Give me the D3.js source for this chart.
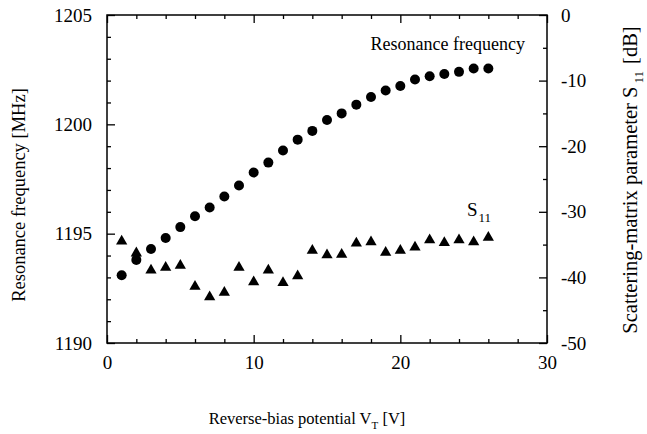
<!DOCTYPE html>
<html>
<head>
<meta charset="utf-8">
<script src="https://cdn.jsdelivr.net/npm/d3@7"></script>
<style>
  body { margin: 0; background: #fff; }
  svg text { font-family: "Liberation Serif", "Times New Roman", serif; fill: #000; }
  .axis path, .axis line { stroke: #000; stroke-width: 1.3; }
</style>
</head>
<body>
<div id="chart"></div>
<script>
// Reverse-bias potential (V)
const voltage = [1, 2, 3, 4, 5, 6, 7, 8, 9, 10, 11, 12, 13, 14, 15, 16, 17, 18, 19, 20, 21, 22, 23, 24, 25, 26];
// Resonance frequency (MHz), left axis
const resonance = [1193.1, 1193.8, 1194.3, 1194.8, 1195.3, 1195.8, 1196.2, 1196.7, 1197.2, 1197.8,
                   1198.25, 1198.8, 1199.3, 1199.7, 1200.2, 1200.5, 1200.9, 1201.25, 1201.55, 1201.75,
                   1202.05, 1202.2, 1202.3, 1202.4, 1202.55, 1202.55];
// S11 (dB), right axis
const s11 = [-34.5, -36.3, -38.9, -38.5, -38.2, -41.4, -43.0, -42.3, -38.5, -40.7,
             -38.9, -40.8, -39.8, -35.9, -36.6, -36.5, -34.8, -34.6, -36.2, -35.9,
             -35.4, -34.3, -34.7, -34.3, -34.6, -33.9];

const xMajor = [0, 10, 20, 30];
const fMajor = [1190, 1195, 1200, 1205];
const sMajor = [-50, -40, -30, -20, -10, 0];

const W = 647, H = 434;
const margin = { top: 15, right: 100, bottom: 91, left: 107 };
const plotW = W - margin.left - margin.right;
const plotH = H - margin.top - margin.bottom;

const svg = d3.select('#chart').append('svg')
    .attr('width', W).attr('height', H);
const g = svg.append('g')
    .attr('transform', `translate(${margin.left},${margin.top})`);

const x = d3.scaleLinear().domain([0, 30]).range([0, plotW]);
const yF = d3.scaleLinear().domain([1190, 1205]).range([plotH, 0]);
const yS = d3.scaleLinear().domain([-50, 0]).range([plotH, 0]);

const MAJ = 8, MIN = 4;
const xMinor = d3.range(0, 31, 2).filter(v => v % 10 !== 0);
const fMinor = d3.range(1190, 1206, 1).filter(v => v % 5 !== 0);
const sMinor = d3.range(-45, 0, 10);

// helper: major ticks with labels + minor ticks without (all ticks point inward)
const drawAxis = (axisFn, scale, major, minor, transform, pad, fmt) => {
    const a = g.append('g').attr('class', 'axis').attr('transform', transform);
    a.call(axisFn(scale).tickValues(major).tickSize(-MAJ).tickPadding(pad)
        .tickFormat(fmt || (() => '')));
    a.selectAll('.tick text').style('font-size', '19px');
    a.select('.domain').remove();
    const m = g.append('g').attr('class', 'axis').attr('transform', transform);
    m.call(axisFn(scale).tickValues(minor).tickSize(-MIN).tickFormat(() => ''));
    m.select('.domain').remove();
};

drawAxis(d3.axisBottom, x, xMajor, xMinor, `translate(0,${plotH})`, 13, d3.format('d'));
drawAxis(d3.axisTop, x, xMajor, xMinor, 'translate(0,0)', 0, null);
drawAxis(d3.axisLeft, yF, fMajor, fMinor, 'translate(0,0)', 15, d3.format('d'));
drawAxis(d3.axisRight, yS, sMajor, sMinor, `translate(${plotW},0)`, 14, d => String(d));

// frame
g.append('rect')
    .attr('width', plotW).attr('height', plotH)
    .attr('fill', 'none').attr('stroke', '#000').attr('stroke-width', 1.5);

// resonance frequency points
g.selectAll('.freq').data(voltage).enter().append('circle')
    .attr('class', 'freq')
    .attr('cx', (d) => x(d))
    .attr('cy', (d, i) => yF(resonance[i]))
    .attr('r', 5)
    .attr('fill', '#000');

// S11 points
const tri = d3.symbol().type(d3.symbolTriangle).size(55);
g.selectAll('.s11').data(voltage).enter().append('path')
    .attr('class', 's11')
    .attr('d', tri)
    .attr('transform', (d, i) => `translate(${x(d)},${yS(s11[i])})`)
    .attr('fill', '#000');

// series labels
g.append('text')
    .attr('x', 418).attr('y', 35)
    .attr('text-anchor', 'end')
    .style('font-size', '18px')
    .text('Resonance frequency');

const sLab = g.append('text')
    .attr('x', 360).attr('y', 201)
    .style('font-size', '19px');
sLab.append('tspan').text('S');
sLab.append('tspan').attr('dx', 1).attr('dy', 6).style('font-size', '13px').text('11');

// axis titles
const xt = svg.append('text')
    .attr('x', 307).attr('y', 424)
    .attr('text-anchor', 'middle')
    .style('font-size', '16.5px');
xt.append('tspan').text('Reverse-bias potential V');
xt.append('tspan').attr('dy', 5).style('font-size', '11px').text('T');
xt.append('tspan').attr('dy', -5).text(' [V]');

svg.append('text')
    .attr('transform', 'translate(25,195) rotate(-90)')
    .attr('text-anchor', 'middle')
    .style('font-size', '18.5px')
    .text('Resonance frequency [MHz]');

const rt = svg.append('text')
    .attr('transform', 'translate(637,180) rotate(-90)')
    .attr('text-anchor', 'middle')
    .style('font-size', '20.5px');
rt.append('tspan').text('Scattering-matrix parameter S');
rt.append('tspan').attr('dx', 3).attr('dy', 6).style('font-size', '13px').text('11');
rt.append('tspan').attr('dx', 2).attr('dy', -6).text(' [dB]');
</script>
</body>
</html>
